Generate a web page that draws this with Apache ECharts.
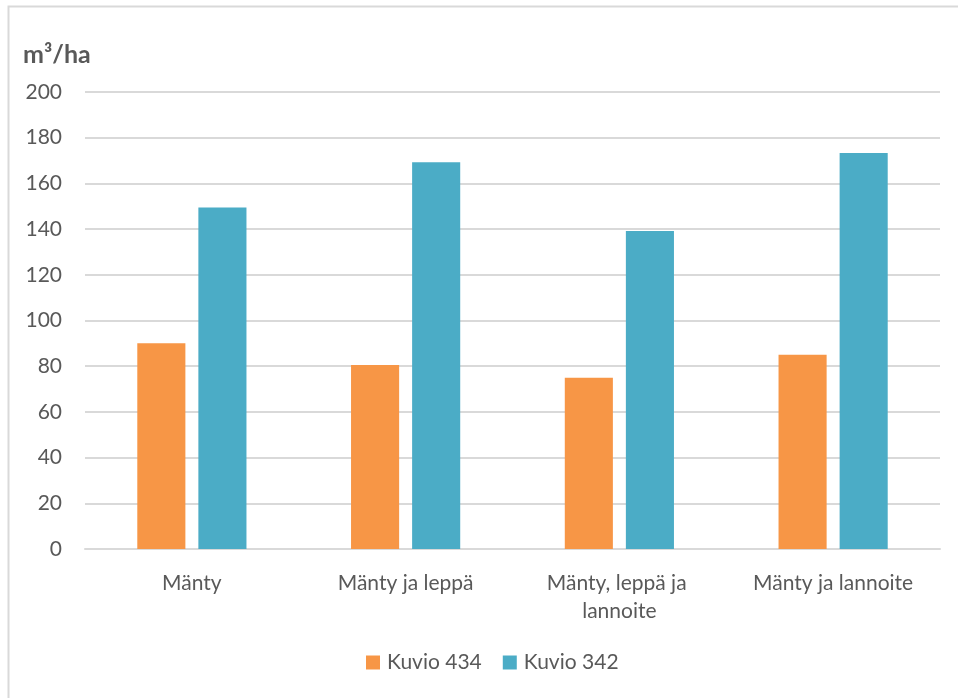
<!DOCTYPE html>
<html>
<head>
<meta charset="utf-8">
<script src="https://cdn.jsdelivr.net/npm/echarts@6/dist/echarts.min.js"></script>
<style>
  html, body { margin: 0; padding: 0; background: #fff; }
  #chart { width: 958px; height: 698px; }
</style>
</head>
<body>
<div id="chart"></div>
<script>
// Stand volume per treatment, two compartments
const categories = ['Mänty', 'Mänty ja leppä', 'Mänty, leppä ja lannoite', 'Mänty ja lannoite'];
const kuvio434 = [90, 80.5, 75, 85];
const kuvio342 = [149.5, 169.3, 139.2, 173.3];
const seriesNames = ['Kuvio 434', 'Kuvio 342'];
const unitLabel = 'm³/ha';

const FONT = 'Lato, "Noto Sans", sans-serif';
const TEXT = '#595959';

const chart = echarts.init(document.getElementById('chart'), null, { renderer: 'canvas' });
chart.setOption({
  backgroundColor: '#ffffff',
  animation: false,
  textStyle: { fontFamily: FONT },
  graphic: [
    {
      type: 'rect',
      shape: { x: 8.5, y: 6.5, width: 1000, height: 1000 },
      style: { fill: 'none', stroke: '#d9d9d9', lineWidth: 2 },
      silent: true
    },
    {
      type: 'text',
      left: 23,
      top: 42,
      style: { text: unitLabel, font: 'bold 25px ' + FONT, fill: TEXT }
    }
  ],
  grid: { left: 85, right: 18, top: 92, bottom: 149, containLabel: false },
  legend: {
    bottom: 20,
    left: 361,
    itemWidth: 14,
    itemHeight: 14,
    itemGap: 21,
    icon: 'rect',
    textStyle: { color: TEXT, fontSize: 21, fontFamily: FONT, padding: [0, 0, 0, 2] },
    data: seriesNames
  },
  xAxis: {
    type: 'category',
    data: categories,
    axisTick: { show: false },
    axisLine: { lineStyle: { color: '#d9d9d9', width: 2 } },
    axisLabel: {
      color: TEXT,
      fontSize: 21,
      fontFamily: FONT,
      margin: 20,
      lineHeight: 28,
      width: 200,
      overflow: 'break',
      interval: 0
    }
  },
  yAxis: {
    type: 'value',
    min: 0,
    max: 200,
    interval: 20,
    axisLine: { show: false },
    axisTick: { show: false },
    splitLine: { lineStyle: { color: '#d9d9d9', width: 2 } },
    axisLabel: { color: TEXT, fontSize: 21, fontFamily: FONT, margin: 23 }
  },
  series: [
    {
      name: seriesNames[0],
      type: 'bar',
      data: kuvio434,
      barWidth: '22.5%',
      barGap: '27%',
      itemStyle: { color: '#F79646' }
    },
    {
      name: seriesNames[1],
      type: 'bar',
      data: kuvio342,
      barWidth: '22.5%',
      barGap: '27%',
      itemStyle: { color: '#4BACC6' }
    }
  ]
});
</script>
</body>
</html>
